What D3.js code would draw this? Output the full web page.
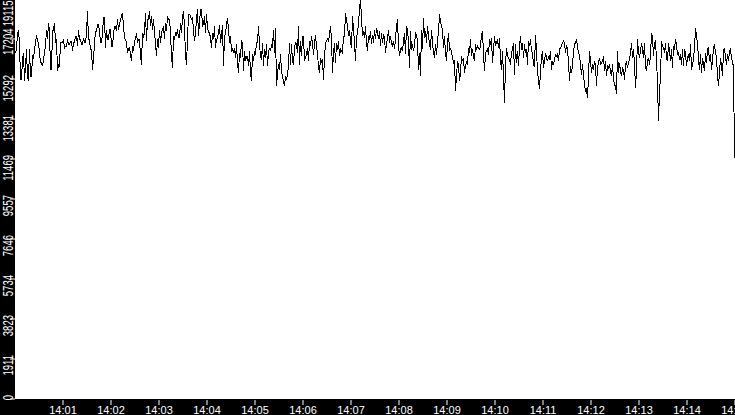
<!DOCTYPE html>
<html>
<head>
<meta charset="utf-8">
<script src="https://cdn.jsdelivr.net/npm/d3@7"></script>
<style>
    html, body { margin: 0; padding: 0; background: #fff; }
    svg { display: block; }
    .band { fill: #000; }
    .axis text { fill: #fff; font-family: "Liberation Sans", Arial, sans-serif; }
    .axis line { stroke: #fff; }
    .axis path { display: none; }
    .trace { fill: none; stroke: #000; stroke-width: 1; shape-rendering: crispEdges; }
</style>
</head>
<body>
<div id="chart"></div>
<script>
let WIDTH = 735;
let HEIGHT = 415;
let STEP_SECONDS = 1.25; // one sample every 1.25 s

// y axis tick labels, as printed (ten equal steps of the max)
let yTickLabels = ["0", "1911", "3823", "5734", "7646", "9557", "11469", "13381", "15292", "17204", "19115"];
let yMax = 19115;

// x axis tick labels
let xTickLabels = ["14:01", "14:02", "14:03", "14:04", "14:05", "14:06", "14:07", "14:08",
    "14:09", "14:10", "14:11", "14:12", "14:13", "14:14", "14:15"];
let startTime = "14:00";
let endTime = "14:15";

// samples, in order, starting at 14:00:01.25
let part1 = [
    16520, 16680, 17470, 17550, 17000, 15240, 15240, 16200, 16520, 15160,
    15880, 16680, 15320, 15240, 16680, 15400, 15400, 16360, 16280, 16680,
    17000, 17390, 17080, 17000, 16520, 16040, 16040, 15880, 16200, 16520,
    16840, 17630, 17160, 17950, 17550, 15720, 15720, 17550, 17630, 17950,
    17000, 17160, 15640, 15960, 15880, 17000, 17000, 17000, 17160, 16760,
    16840, 16840, 17160, 16920, 16920, 17080, 17080, 16600, 17000, 17000,
    17310, 17310, 16840, 17630, 17160, 17160, 16920, 16920, 17230, 17000,
    17000, 17470, 18510, 17160, 17160, 16680, 16680, 15720, 16200, 17000,
    17550, 17550, 17870, 17870, 17550, 17000, 17000, 17470, 18190, 18190,
    16760, 17630, 17160, 17160, 17630, 17630, 16840, 16840, 17390, 17790,
    17790, 17550, 18110
];
let part2 = [
    17630, 17870, 18110, 18270, 18430, 17790, 17230, 17160, 17000, 16520,
    16680, 16760, 16440, 16120, 16840, 16600, 17080, 17160, 17470, 17000,
    17160, 17160, 16360, 15960, 17470, 17230, 17550, 18430, 17080, 18110,
    18110, 18510, 17790, 18270, 17630, 18110, 17470, 17000, 16360, 17160,
    16760, 17630, 17000, 17470, 17630, 17790, 17160, 17950, 17550, 18270,
    18110, 18110, 17470, 16360, 15800, 17310, 17160, 17470, 17390, 17630,
    17230, 17230, 17950, 17470, 18190, 18510, 17790, 16360, 15960, 17160,
    18350, 18350, 18270, 18110, 18190, 17630, 17080, 17470, 18110, 18590,
    17310, 17950, 18590, 18590, 17790, 17870, 18270, 17470, 18350, 17790,
    17470, 17470, 17230, 16760, 17470, 17160, 17790, 16760, 17160, 17230
];
let part3 = [
    17470, 17870, 17000, 17310, 17870, 15880, 17310, 17470, 17870, 18190,
    17630, 17000, 17310, 16600, 16680, 16520, 16760, 16280, 16920, 16040,
    15560, 16520, 16280, 17080, 17000, 15640, 16600, 16120, 16360, 16360,
    15880, 16600, 15560, 15160, 16440, 16120, 16600, 16440, 17000, 17000,
    17790, 16920, 16360, 16200, 17000, 15880, 16680, 16280, 16920, 15880,
    16520, 16760, 16600, 16920, 16760, 17630, 16520, 17710, 14930, 15480,
    15960, 15720, 16440, 15640, 15400, 15160, 14930, 15400, 15240, 15480,
    15880, 17000, 15960, 16920, 16120, 15960, 16760, 17000, 16920, 16520,
    17790, 15960, 17080, 16360, 17310, 17310, 16120, 16280, 16440, 16760,
    16120, 17080, 16840, 17310, 17000, 16440
];
let part4 = [
    16920, 17390, 16840, 16440, 15880, 15560, 16280, 16040, 16200, 15240,
    16280, 17000, 17080, 17160, 17080, 17390, 17790, 17160, 15560, 16520,
    17000, 16040, 17000, 16680, 17080, 16360, 16680, 16600, 16520, 17310,
    17310, 18430, 18030, 17870, 17310, 17630, 17000, 16760, 18270, 17630,
    17000, 16120, 17310, 17470, 17950, 18590, 19070, 18190, 17310, 17550,
    17230, 17790, 17000, 16600, 17310, 17160, 17550, 16920, 17390, 17000,
    17630, 17160, 17710, 17470, 17160, 17550, 16840, 17470, 17000, 17390,
    17230, 16520, 16920, 17230, 17630, 17000, 17310, 16920, 16840, 17080,
    16680, 17230, 17790, 18110, 16840, 16360, 16680, 16760, 16600, 17080,
    17470, 16440, 17790, 17630, 17000, 15800, 17550, 16680
];
let part5 = [
    16840, 16680, 16840, 17470, 17390, 17080, 15720, 16520, 15400, 17630,
    16680, 18190, 17230, 17550, 17000, 17790, 17310, 16920, 16680, 17630,
    17000, 16520, 16280, 16920, 16440, 17080, 17550, 18350, 18030, 17790,
    17630, 16760, 17310, 16520, 16120, 17000, 17470, 16600, 16760, 16520,
    16280, 16040, 16120, 14690, 15400, 16120, 15960, 15160, 15560, 16360,
    16120, 16280, 15560, 15880, 16120, 15960, 16760, 16520, 17160, 16360,
    16680, 16360, 16120, 16920, 16680, 16840, 16760, 16680, 16840, 17390,
    17550, 16440, 15640, 16520, 16600, 16680, 16440, 17160, 16920, 17230,
    16040, 16680, 17310, 16840, 17000, 17160, 16760, 17230, 16200, 15720,
    16600, 15400, 14130, 15960, 16760, 16360
];
let part6 = [
    16280, 16200, 15960, 16520, 16680, 17000, 15480, 16920, 16040, 16600,
    15880, 16840, 17310, 16680, 17000, 16280, 16920, 16520, 16680, 15960,
    17080, 16840, 17160, 16600, 16520, 15960, 15880, 17390, 16600, 15640,
    15160, 14770, 15640, 16280, 16600, 15800, 16120, 16520, 16280, 16120,
    16360, 16200, 16600, 15720, 16120, 15960, 16200, 16440, 16360, 16440,
    16120, 16680, 16760, 16840, 17000, 17080, 17000, 16520, 16840, 16760,
    16040, 15160, 15880, 15560, 15960, 16600, 16920, 17000, 17160, 16840,
    16520, 16440, 15880, 15480, 15960, 15480, 15000, 14690, 14770, 14370,
    15400, 16600, 16120, 15560, 15960, 15720, 16120, 15960, 14930, 15800,
    16040, 16280
];
let part7 = [
    15960, 16040, 16120, 16360, 15640, 16120, 15400, 15880, 15800, 15960,
    15640, 15400, 15960, 15240, 15000, 14930, 14530, 16600, 15560, 16040,
    15640, 15400, 15800, 15720, 15240, 15960, 16120, 15800, 16040, 16200,
    16520, 17000, 16280, 16680, 15960, 14850, 15640, 17160, 16520, 16280,
    16600, 17000, 16680, 16280, 17000, 15880, 15640, 16120, 16280, 15960,
    16360, 17470, 17230, 16360, 17000, 17080, 16200, 15080, 13250, 14610,
    15400, 17080, 16840, 16760, 16520, 17000, 16280, 16120, 17000, 16600,
    16120, 16680, 15800, 16840, 16680, 17160, 16920, 16440, 16520, 16200,
    16440, 15960, 16680, 15880, 16680, 16520, 15880, 16280, 16440, 16120,
    16920, 15720, 15960, 16200, 16760, 17710, 17310, 17000, 16200, 15720,
    16440, 15560, 16280, 15960, 15640, 16520, 16040, 16680, 16760, 16120,
    16440, 15720, 16120, 16760, 16920, 16520, 16280, 15400, 14930, 15560,
    16280, 15880, 15400, 16600, 16760, 16280, 15960, 16440, 16120, 16600,
    16680, 16280, 16040, 15880, 11500
];

let values = [].concat(part1, part2, part3, part4, part5, part6, part7);

let parseTime = d3.timeParse("%H:%M");
let t0 = parseTime(startTime);
let t1 = parseTime(endTime);

let samples = values.map((v, i) => ({
    time: new Date(t0.getTime() + (i + 1) * STEP_SECONDS * 1000),
    value: v
}));

let svg = d3.select("#chart")
    .append("svg")
    .attr("width", WIDTH)
    .attr("height", HEIGHT);

// the plot sits right of a black band and above another one
let plotLeft = 15;
let plotBottom = 399;

let xScale = d3.scaleTime()
    .domain([t0, t1])
    .range([14.5, 734.5]);

let yScale = d3.scaleLinear()
    .domain([0, yMax])
    .range([398.5, -1.5]);

svg.append("rect")
    .attr("width", WIDTH)
    .attr("height", HEIGHT)
    .attr("fill", "#fff");

svg.append("path")
    .datum(samples)
    .attr("class", "trace")
    .attr("d", d3.line()
        .x(d => xScale(d.time))
        .y(d => yScale(d.value)));

// black bands behind the axes
svg.append("rect")
    .attr("class", "band")
    .attr("x", 0).attr("y", 0)
    .attr("width", plotLeft).attr("height", HEIGHT);
svg.append("rect")
    .attr("class", "band")
    .attr("x", 0).attr("y", plotBottom)
    .attr("width", WIDTH).attr("height", HEIGHT - plotBottom);

// y axis: rotated labels hanging below their ticks
let yTicks = yTickLabels.map((s, i) => yMax * i / 10);
let yAxis = svg.append("g")
    .attr("class", "axis y-axis")
    .attr("transform", `translate(${plotLeft}, 0)`)
    .call(d3.axisLeft(yScale)
        .tickValues(yTicks)
        .tickSize(5)
        .tickFormat((d, i) => yTickLabels[i]));

let last = yTicks.length - 1;
yAxis.selectAll(".tick text")
    .attr("x", null)
    .attr("dy", null)
    .attr("font-size", 14)
    .attr("text-anchor", "end")
    .attr("transform", (d, i) => {
        let top = -4;
        // top two labels are squeezed to stay inside the picture
        if (i === last) top = -yScale(d);
        else if (i === last - 1) top = -10.5;
        return `translate(-2.3, ${top}) rotate(-90) scale(0.68, 1)`;
    });

// x axis
let xAxis = svg.append("g")
    .attr("class", "axis x-axis")
    .attr("transform", `translate(0, ${plotBottom + 1})`)
    .call(d3.axisBottom(xScale)
        .tickValues(xTickLabels.map(parseTime))
        .tickSize(5)
        .tickFormat(d3.timeFormat("%H:%M")));

xAxis.selectAll(".tick text")
    .attr("y", 13.5)
    .attr("dy", null)
    .attr("font-size", 11);
</script>
</body>
</html>
